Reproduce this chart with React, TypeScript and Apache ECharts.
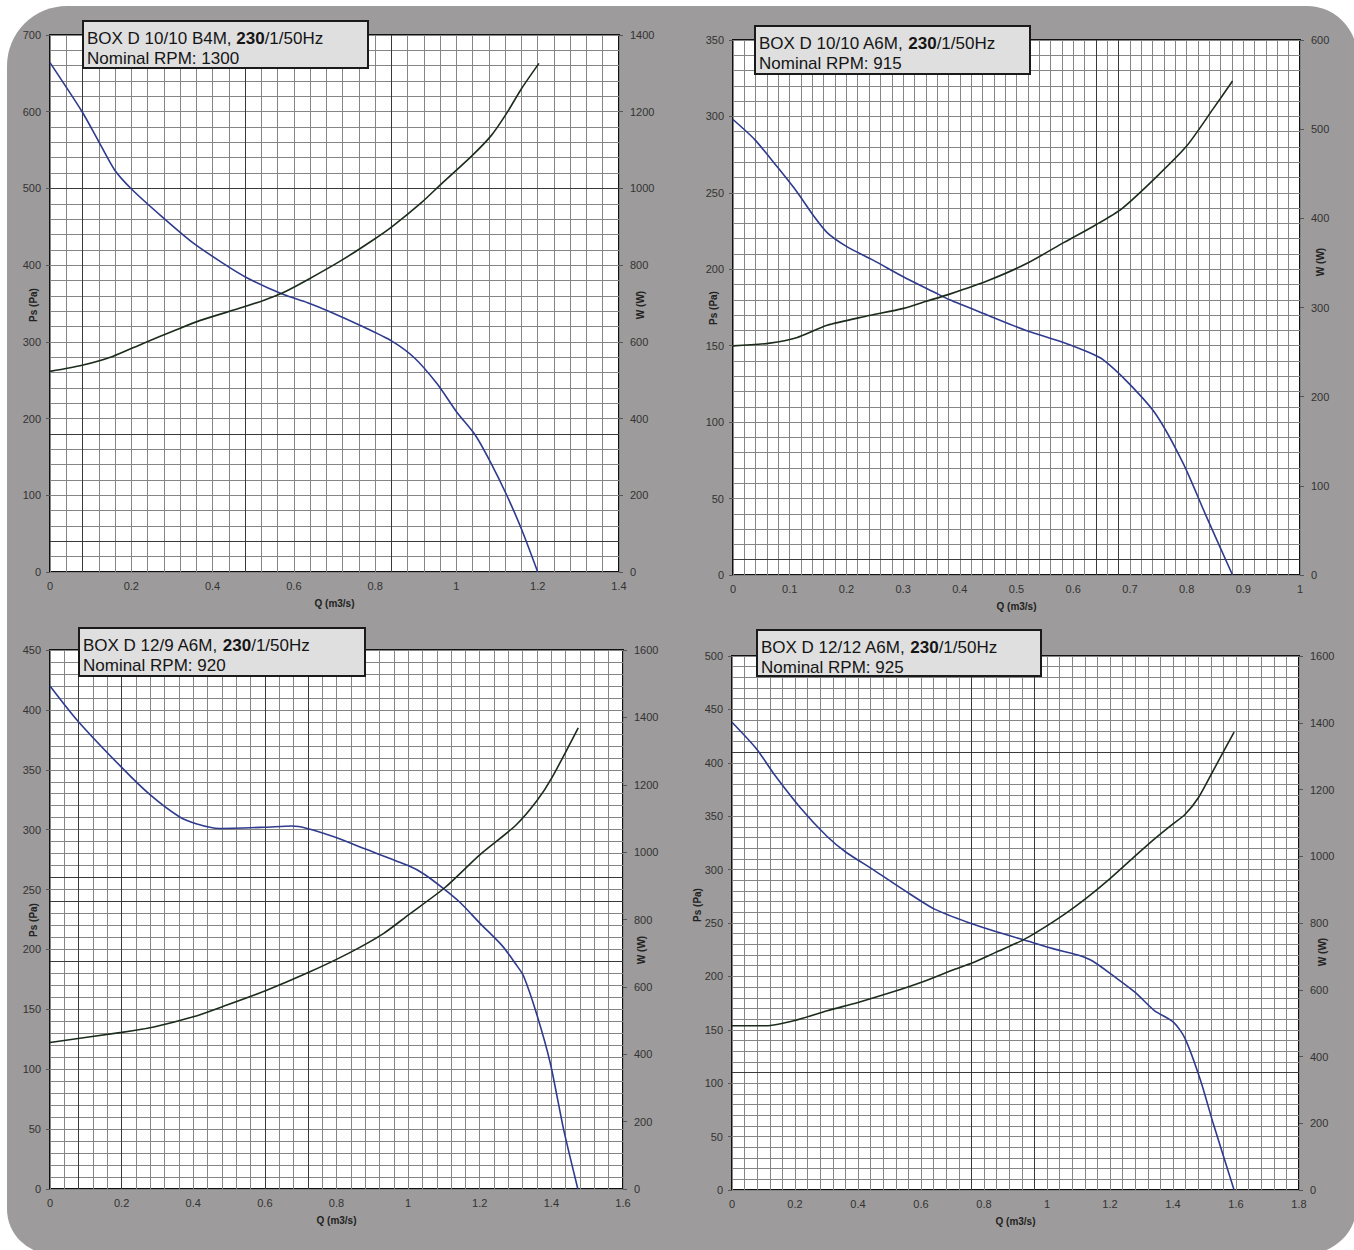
import React, { useEffect, useRef } from "react";
import * as echarts from "echarts";

// ---------- Data ----------
const TITLES = ["BOX D 10/10 B4M", "BOX D 10/10 A6M", "BOX D 12/9 A6M", "BOX D 12/12 A6M"];
const VOLTAGE = "230";
const SUPPLY = "/1/50Hz";
const RPMS = [1300, 915, 920, 925];
const X_NAME = "Q (m3/s)";
const PS_NAME = "Ps (Pa)";
const W_NAME = "W (W)";

// Chart 1: BOX D 10/10 B4M
const Q1_PS = [0, 0.079, 0.117, 0.159, 0.201, 0.276, 0.352, 0.427, 0.483, 0.573, 0.634, 0.69, 0.765, 0.841, 0.897, 0.953, 1.0, 1.047, 1.085, 1.123, 1.16, 1.2];
const PS1 = [664, 600, 564, 524, 499, 463, 429, 402, 384, 362, 351, 339, 321, 301, 279, 245, 209, 178, 142, 101, 56, 0];
const Q1_W = [0, 0.079, 0.154, 0.229, 0.305, 0.37, 0.474, 0.53, 0.573, 0.634, 0.718, 0.794, 0.841, 0.916, 0.963, 1.038, 1.085, 1.123, 1.16, 1.203];
const W1 = [523, 539, 562, 596, 629, 656, 690, 710, 728, 762, 813, 865, 900, 965, 1012, 1085, 1137, 1195, 1260, 1326];

// Chart 2: BOX D 10/10 A6M
const Q2_PS = [0, 0.038, 0.078, 0.112, 0.142, 0.166, 0.2, 0.247, 0.301, 0.355, 0.382, 0.449, 0.517, 0.584, 0.625, 0.652, 0.699, 0.746, 0.794, 0.834, 0.881];
const PS2 = [298, 285, 267, 251, 235, 224, 215, 206, 195, 185, 180, 170, 160, 152, 146, 141, 125, 105, 73, 39, 0];
const Q2_W = [0, 0.065, 0.112, 0.166, 0.233, 0.301, 0.341, 0.382, 0.449, 0.517, 0.584, 0.638, 0.686, 0.746, 0.8, 0.847, 0.881];
const W2 = [257, 260, 266, 280, 290, 299, 307, 315, 330, 349, 373, 392, 411, 446, 481, 523, 554];

// Chart 3: BOX D 12/9 A6M
const Q3_PS = [0, 0.077, 0.2, 0.28, 0.36, 0.408, 0.472, 0.6, 0.675, 0.718, 0.793, 0.879, 1.0, 1.044, 1.098, 1.146, 1.2, 1.263, 1.3, 1.322, 1.36, 1.397, 1.434, 1.474];
const PS3 = [420, 391, 352, 329, 311, 305, 301, 302, 303, 301, 294, 284, 270, 263, 251, 239, 222, 203, 188, 178, 145, 105, 50, 0];
const Q3_W = [0, 0.2, 0.29, 0.4, 0.483, 0.6, 0.718, 0.836, 0.932, 1.0, 1.103, 1.2, 1.3, 1.36, 1.402, 1.475];
const W3 = [435, 465, 481, 511, 542, 588, 641, 701, 759, 813, 895, 992, 1079, 1153, 1222, 1369];

// Chart 4: BOX D 12/12 A6M
const Q4_PS = [0, 0.078, 0.132, 0.217, 0.302, 0.363, 0.448, 0.545, 0.643, 0.764, 0.837, 0.928, 1.019, 1.098, 1.147, 1.213, 1.28, 1.341, 1.402, 1.438, 1.487, 1.529, 1.594];
const PS4 = [438, 413, 390, 358, 331, 316, 300, 281, 263, 249, 242, 234, 226, 220, 214, 200, 185, 168, 157, 142, 103, 61, 0];
const Q4_W = [0, 0.108, 0.2, 0.302, 0.4, 0.509, 0.606, 0.703, 0.764, 0.837, 0.922, 0.97, 1.055, 1.128, 1.201, 1.274, 1.335, 1.396, 1.438, 1.481, 1.529, 1.594];
const W4 = [492, 492, 508, 537, 562, 593, 624, 660, 681, 712, 748, 774, 826, 877, 934, 996, 1047, 1094, 1125, 1176, 1259, 1372];

// Axis ranges
const X_MAX = [1.4, 1, 1.6, 1.8];
const X_INTERVAL = [0.2, 0.1, 0.2, 0.2];
const PS_MAX = [700, 350, 450, 500];
const PS_INTERVAL = [100, 50, 50, 50];
const W_MAX = [1400, 600, 1600, 1600];
const W_INTERVAL = [200, 100, 200, 200];

// Darker reference lines of the printed grid paper
const DARK_X = [[0.08, 0.48, 0.84], [0.64, 0.68], [0.08, 0.2, 0.6, 0.72], [0.76, 0.96]];
const DARK_Y = [[500, 180, 40], [10], [260, 240, 190], [410, 110]];

// ---------- Layout ----------
const FONT = "'Liberation Sans', Arial, Helvetica, sans-serif";
const GRIDS = [
  { left: 50, top: 35, width: 569, height: 537 },
  { left: 733, top: 40, width: 567, height: 535 },
  { left: 50, top: 650, width: 573, height: 539 },
  { left: 732, top: 656, width: 567, height: 534 },
];
const BOXES = [
  { x: 83, y: 21, w: 285, h: 47 },
  { x: 755, y: 26, w: 275, h: 48 },
  { x: 79, y: 628, w: 286, h: 48 },
  { x: 757, y: 630, w: 284, h: 46 },
];
// centres of the rotated axis titles
const PS_NAME_POS = [[33, 305], [713, 308], [33, 920], [697, 905]];
const W_NAME_POS = [[640, 305], [1320, 262], [641, 950], [1322, 952]];
const BLUE = "#2e3b8e";
const GREEN = "#1c2c1c";
const GRID_GRAY = "#858585";

const zip = (xs: number[], ys: number[]) => xs.map((x, i) => [x, ys[i]]);
const plain = (v: number) => String(v);

function buildOption() {
  const PS_SERIES = [zip(Q1_PS, PS1), zip(Q2_PS, PS2), zip(Q3_PS, PS3), zip(Q4_PS, PS4)];
  const W_SERIES = [zip(Q1_W, W1), zip(Q2_W, W2), zip(Q3_W, W3), zip(Q4_W, W4)];

  const grid: any[] = [];
  const xAxis: any[] = [];
  const yAxis: any[] = [];
  const series: any[] = [];
  const graphic: any[] = [];

  graphic.push({
    type: "rect",
    z: -100,
    shape: { x: 7, y: 6, width: 1350, height: 1248, r: [60, 50, 50, 45] },
    style: { fill: "#9d9b9b" },
  });

  const nameStyle = { fontWeight: "bold", fontSize: 10, color: "#222", fontFamily: FONT };
  const rotatedName = (text: string, pos: number[]) => ({
    type: "text",
    z: 50,
    x: pos[0],
    y: pos[1],
    rotation: Math.PI / 2,
    style: {
      text,
      align: "center",
      verticalAlign: "middle",
      fontSize: 10,
      fontWeight: "bold",
      fontFamily: FONT,
      fill: "#222",
    },
  });

  for (let i = 0; i < 4; i++) {
    const g = GRIDS[i];
    grid.push({
      ...g,
      show: true,
      backgroundColor: "#ffffff",
      borderColor: "#111111",
      borderWidth: 2,
    });
    xAxis.push({
      type: "value",
      gridIndex: i,
      min: 0,
      max: X_MAX[i],
      interval: X_INTERVAL[i],
      name: X_NAME,
      nameLocation: "middle",
      nameGap: 26,
      nameMoveOverlap: false,
      nameTextStyle: nameStyle,
      axisLine: { show: false },
      axisTick: { show: false },
      axisLabel: { fontSize: 11, color: "#333", margin: 8, fontFamily: FONT, formatter: plain },
      splitLine: { show: true, lineStyle: { color: GRID_GRAY, width: 1 } },
      minorTick: { show: false, splitNumber: 5 },
      minorSplitLine: { show: true, lineStyle: { color: GRID_GRAY, width: 1 } },
    });
    yAxis.push({
      type: "value",
      gridIndex: i,
      position: "left",
      min: 0,
      max: PS_MAX[i],
      interval: PS_INTERVAL[i],
      axisLine: { show: false },
      axisTick: { show: true, length: 4, lineStyle: { color: "#555" } },
      axisLabel: { fontSize: 11, color: "#333", margin: 9, fontFamily: FONT, formatter: plain },
      splitLine: { show: true, lineStyle: { color: GRID_GRAY, width: 1 } },
      minorTick: { show: false, splitNumber: 5 },
      minorSplitLine: { show: true, lineStyle: { color: GRID_GRAY, width: 1 } },
    });
    yAxis.push({
      type: "value",
      gridIndex: i,
      position: "right",
      min: 0,
      max: W_MAX[i],
      interval: W_INTERVAL[i],
      axisLine: { show: false },
      axisTick: { show: true, length: 4, lineStyle: { color: "#555" } },
      axisLabel: { fontSize: 11, color: "#333", margin: 11, fontFamily: FONT, formatter: plain },
      splitLine: { show: false },
    });

    graphic.push(rotatedName(PS_NAME, PS_NAME_POS[i]));
    graphic.push(rotatedName(W_NAME, W_NAME_POS[i]));

    const markData: any[] = [
      ...DARK_X[i].map((v) => ({ xAxis: v })),
      ...DARK_Y[i].map((v) => ({ yAxis: v })),
    ];

    series.push({
      type: "line",
      name: PS_NAME,
      xAxisIndex: i,
      yAxisIndex: 2 * i,
      data: PS_SERIES[i],
      showSymbol: false,
      smooth: 0.25,
      lineStyle: { color: BLUE, width: 1.6 },
      z: 5,
      markLine: {
        silent: true,
        symbol: "none",
        label: { show: false },
        lineStyle: { color: "#3a3a3a", width: 1, type: "solid" },
        data: markData,
        z: 1,
      },
    });
    series.push({
      type: "line",
      name: W_NAME,
      xAxisIndex: i,
      yAxisIndex: 2 * i + 1,
      data: W_SERIES[i],
      showSymbol: false,
      smooth: 0.25,
      lineStyle: { color: GREEN, width: 1.6 },
      z: 5,
    });

    const b = BOXES[i];
    graphic.push({
      type: "rect",
      z: 100,
      shape: { x: b.x, y: b.y, width: b.w, height: b.h },
      style: { fill: "#dfdfdf", stroke: "#1a1a1a", lineWidth: 2 },
    });
    graphic.push({
      type: "text",
      z: 101,
      x: b.x + 4,
      y: b.y + 7,
      style: {
        text:
          "{n|" + TITLES[i] + ", }{b|" + VOLTAGE + "}{n|" + SUPPLY + "}\n{n|Nominal RPM: " + RPMS[i] + "}",
        verticalAlign: "top",
        align: "left",
        rich: {
          n: { fontSize: 17, fontFamily: FONT, fill: "#151515", lineHeight: 20 },
          b: { fontSize: 17, fontFamily: FONT, fontWeight: "bold", fill: "#151515", lineHeight: 20 },
        },
      },
    });
  }

  return {
    animation: false,
    backgroundColor: "#ffffff",
    textStyle: { fontFamily: FONT },
    grid,
    xAxis,
    yAxis,
    series,
    graphic,
  };
}

export default function App() {
  const ref = useRef<HTMLDivElement>(null);
  useEffect(() => {
    if (!ref.current) return;
    const chart = echarts.init(ref.current, undefined, { renderer: "svg" });
    chart.setOption(buildOption() as any);
    return () => chart.dispose();
  }, []);
  return (
    <div
      ref={ref}
      style={{ position: "absolute", left: 0, top: 0, width: 1354, height: 1250 }}
    />
  );
}
